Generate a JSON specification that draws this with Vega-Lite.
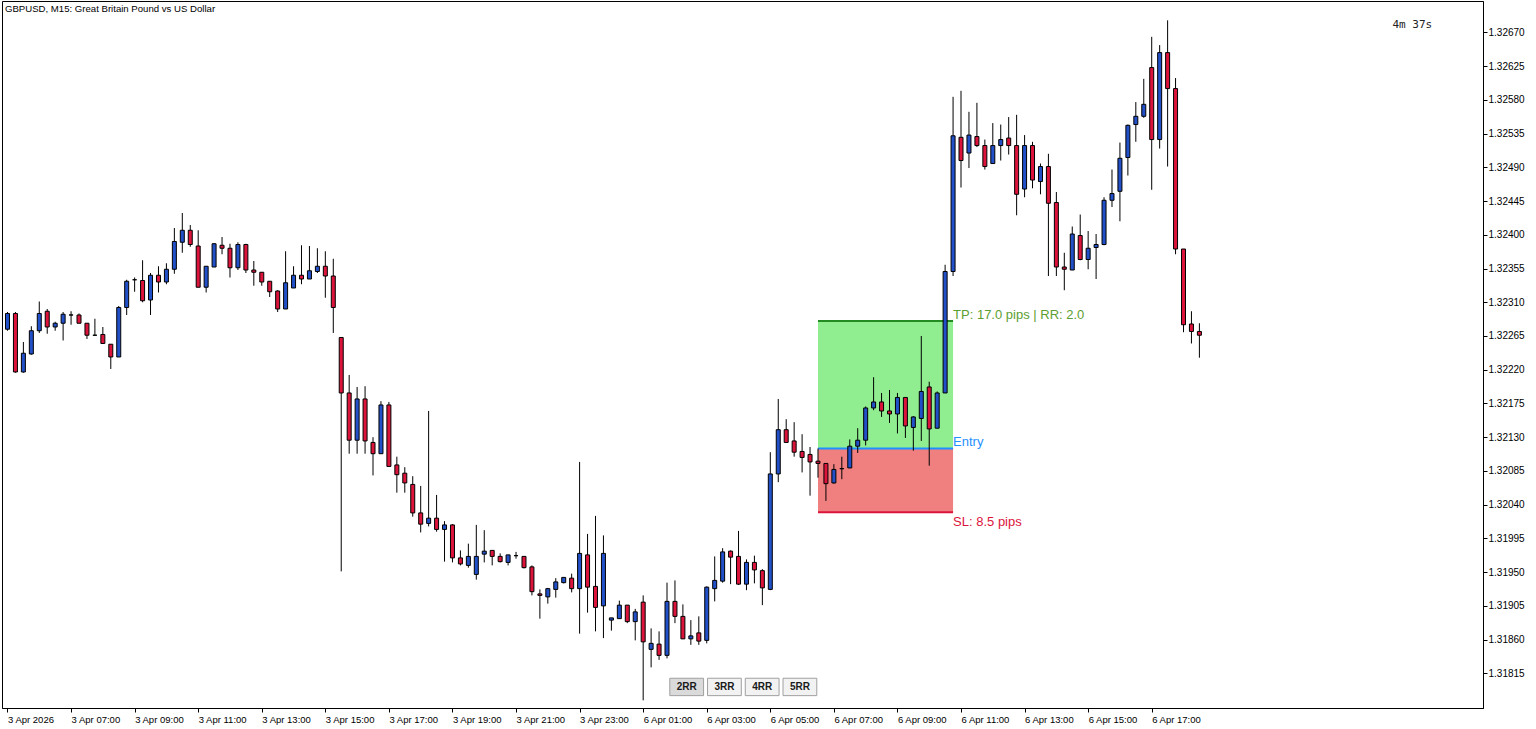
{
  "$schema": "https://vega.github.io/schema/vega-lite/v6.json",
  "width": 1481,
  "height": 707,
  "autosize": {"type": "none"},
  "padding": {"left": 2, "top": 1, "right": 53, "bottom": 21},
  "background": "#ffffff",
  "title": {"text": "GBPUSD, M15:  Great Britain Pound vs US Dollar", "anchor": "start", "frame": "group", "orient": "top", "offset": -18, "dx": 3, "baseline": "middle", "font": "Liberation Sans", "fontSize": 9.6, "fontWeight": "normal", "color": "#000000"},
  "config": {
    "view": {"stroke": "#000000", "strokeWidth": 1},
    "axis": {"grid": false, "title": null, "domainColor": "#000000", "tickColor": "#000000", "labelColor": "#000000", "labelFont": "Liberation Sans", "labelFontSize": 9.5, "labelOverlap": false, "labelBound": false, "labelFlush": false},
    "axisY": {"labelOverlap": false, "labelFontSize": 10, "tickCount": 40},
    "axisX": {"tickCount": 40}
  },
  "datasets": {
    "candles": [
      {"i":0,"o":1.32274,"h":1.32297,"l":1.32272,"c":1.32295},
      {"i":1,"o":1.32295,"h":1.32297,"l":1.32216,"c":1.32217},
      {"i":2,"o":1.32217,"h":1.32257,"l":1.32216,"c":1.32242},
      {"i":3,"o":1.32241,"h":1.32278,"l":1.32240,"c":1.32272},
      {"i":4,"o":1.32272,"h":1.32311,"l":1.32269,"c":1.32295},
      {"i":5,"o":1.32298,"h":1.32301,"l":1.32268,"c":1.32277},
      {"i":6,"o":1.32277,"h":1.32284,"l":1.32272,"c":1.32282},
      {"i":7,"o":1.32282,"h":1.32297,"l":1.32259,"c":1.32294},
      {"i":8,"o":1.32293,"h":1.32298,"l":1.32280,"c":1.32293},
      {"i":9,"o":1.32293,"h":1.32295,"l":1.32282,"c":1.32282},
      {"i":10,"o":1.32282,"h":1.32282,"l":1.32261,"c":1.32266},
      {"i":11,"o":1.32266,"h":1.32288,"l":1.32265,"c":1.32266},
      {"i":12,"o":1.32267,"h":1.32277,"l":1.32255,"c":1.32255},
      {"i":13,"o":1.32254,"h":1.32254,"l":1.32221,"c":1.32237},
      {"i":14,"o":1.32237,"h":1.32305,"l":1.32237,"c":1.32303},
      {"i":15,"o":1.32303,"h":1.32340,"l":1.32293,"c":1.32338},
      {"i":16,"o":1.32340,"h":1.32343,"l":1.32324,"c":1.32340},
      {"i":17,"o":1.32339,"h":1.32366,"l":1.32310,"c":1.32312},
      {"i":18,"o":1.32313,"h":1.32349,"l":1.32293,"c":1.32346},
      {"i":19,"o":1.32346,"h":1.32358,"l":1.32323,"c":1.32337},
      {"i":20,"o":1.32337,"h":1.32362,"l":1.32334,"c":1.32354},
      {"i":21,"o":1.32354,"h":1.32409,"l":1.32348,"c":1.32391},
      {"i":22,"o":1.32390,"h":1.32429,"l":1.32376,"c":1.32406},
      {"i":23,"o":1.32406,"h":1.32413,"l":1.32384,"c":1.32387},
      {"i":24,"o":1.32385,"h":1.32406,"l":1.32330,"c":1.32330},
      {"i":25,"o":1.32330,"h":1.32358,"l":1.32323,"c":1.32358},
      {"i":26,"o":1.32357,"h":1.32389,"l":1.32357,"c":1.32388},
      {"i":27,"o":1.32386,"h":1.32397,"l":1.32374,"c":1.32382},
      {"i":28,"o":1.32382,"h":1.32388,"l":1.32343,"c":1.32356},
      {"i":29,"o":1.32356,"h":1.32390,"l":1.32353,"c":1.32387},
      {"i":30,"o":1.32387,"h":1.32388,"l":1.32349,"c":1.32353},
      {"i":31,"o":1.32353,"h":1.32365,"l":1.32332,"c":1.32350},
      {"i":32,"o":1.32350,"h":1.32350,"l":1.32332,"c":1.32337},
      {"i":33,"o":1.32338,"h":1.32338,"l":1.32317,"c":1.32324},
      {"i":34,"o":1.32325,"h":1.32326,"l":1.32297,"c":1.32301},
      {"i":35,"o":1.32301,"h":1.32378,"l":1.32301,"c":1.32336},
      {"i":36,"o":1.32329,"h":1.32358,"l":1.32329,"c":1.32346},
      {"i":37,"o":1.32346,"h":1.32386,"l":1.32334,"c":1.32341},
      {"i":38,"o":1.32341,"h":1.32385,"l":1.32341,"c":1.32352},
      {"i":39,"o":1.32351,"h":1.32382,"l":1.32349,"c":1.32358},
      {"i":40,"o":1.32358,"h":1.32378,"l":1.32316,"c":1.32345},
      {"i":41,"o":1.32345,"h":1.32368,"l":1.32269,"c":1.32303},
      {"i":42,"o":1.32263,"h":1.32263,"l":1.31951,"c":1.32189},
      {"i":43,"o":1.32189,"h":1.32213,"l":1.32108,"c":1.32126},
      {"i":44,"o":1.32126,"h":1.32197,"l":1.32108,"c":1.32181},
      {"i":45,"o":1.32181,"h":1.32198,"l":1.32108,"c":1.32125},
      {"i":46,"o":1.32123,"h":1.32130,"l":1.32079,"c":1.32108},
      {"i":47,"o":1.32108,"h":1.32178,"l":1.32108,"c":1.32173},
      {"i":48,"o":1.32173,"h":1.32177,"l":1.32091,"c":1.32091},
      {"i":49,"o":1.32093,"h":1.32104,"l":1.32056,"c":1.32080},
      {"i":50,"o":1.32082,"h":1.32090,"l":1.32056,"c":1.32069},
      {"i":51,"o":1.32067,"h":1.32078,"l":1.32024,"c":1.32029},
      {"i":52,"o":1.32029,"h":1.32065,"l":1.32003,"c":1.32014},
      {"i":53,"o":1.32015,"h":1.32165,"l":1.32011,"c":1.32022},
      {"i":54,"o":1.32022,"h":1.32053,"l":1.32004,"c":1.32007},
      {"i":55,"o":1.32007,"h":1.32018,"l":1.31964,"c":1.32013},
      {"i":56,"o":1.32013,"h":1.32014,"l":1.31963,"c":1.31969},
      {"i":57,"o":1.31969,"h":1.31979,"l":1.31959,"c":1.31961},
      {"i":58,"o":1.31959,"h":1.31988,"l":1.31956,"c":1.31971},
      {"i":59,"o":1.31947,"h":1.32013,"l":1.31940,"c":1.31971},
      {"i":60,"o":1.31974,"h":1.32006,"l":1.31963,"c":1.31978},
      {"i":61,"o":1.31979,"h":1.31979,"l":1.31959,"c":1.31971},
      {"i":62,"o":1.31971,"h":1.31975,"l":1.31963,"c":1.31964},
      {"i":63,"o":1.31963,"h":1.31973,"l":1.31959,"c":1.31973},
      {"i":64,"o":1.31972,"h":1.31977,"l":1.31968,"c":1.31972},
      {"i":65,"o":1.31971,"h":1.31971,"l":1.31955,"c":1.31956},
      {"i":66,"o":1.31957,"h":1.31959,"l":1.31919,"c":1.31924},
      {"i":67,"o":1.31921,"h":1.31927,"l":1.31888,"c":1.31919},
      {"i":68,"o":1.31917,"h":1.31929,"l":1.31908,"c":1.31928},
      {"i":69,"o":1.31927,"h":1.31942,"l":1.31916,"c":1.31937},
      {"i":70,"o":1.31936,"h":1.31943,"l":1.31935,"c":1.31943},
      {"i":71,"o":1.31942,"h":1.31948,"l":1.31923,"c":1.31928},
      {"i":72,"o":1.31928,"h":1.32097,"l":1.31868,"c":1.31975},
      {"i":73,"o":1.31973,"h":1.32001,"l":1.31896,"c":1.31930},
      {"i":74,"o":1.31931,"h":1.32025,"l":1.31871,"c":1.31903},
      {"i":75,"o":1.31905,"h":1.31999,"l":1.31862,"c":1.31975},
      {"i":76,"o":1.31886,"h":1.31889,"l":1.31872,"c":1.31889},
      {"i":77,"o":1.31888,"h":1.31912,"l":1.31888,"c":1.31906},
      {"i":78,"o":1.31906,"h":1.31906,"l":1.31882,"c":1.31884},
      {"i":79,"o":1.31884,"h":1.31901,"l":1.31859,"c":1.31897},
      {"i":80,"o":1.31910,"h":1.31919,"l":1.31779,"c":1.31857},
      {"i":81,"o":1.31847,"h":1.31875,"l":1.31823,"c":1.31855},
      {"i":82,"o":1.31854,"h":1.31871,"l":1.31833,"c":1.31839},
      {"i":83,"o":1.31839,"h":1.31936,"l":1.31835,"c":1.31911},
      {"i":84,"o":1.31911,"h":1.31939,"l":1.31882,"c":1.31891},
      {"i":85,"o":1.31891,"h":1.31907,"l":1.31861,"c":1.31861},
      {"i":86,"o":1.31861,"h":1.31886,"l":1.31853,"c":1.31865},
      {"i":87,"o":1.31869,"h":1.31891,"l":1.31853,"c":1.31858},
      {"i":88,"o":1.31859,"h":1.31931,"l":1.31855,"c":1.31930},
      {"i":89,"o":1.31928,"h":1.31971,"l":1.31911,"c":1.31939},
      {"i":90,"o":1.31938,"h":1.31982,"l":1.31936,"c":1.31977},
      {"i":91,"o":1.31978,"h":1.31979,"l":1.31934,"c":1.31970},
      {"i":92,"o":1.31971,"h":1.32005,"l":1.31933,"c":1.31934},
      {"i":93,"o":1.31934,"h":1.31967,"l":1.31926,"c":1.31963},
      {"i":94,"o":1.31963,"h":1.31972,"l":1.31935,"c":1.31953},
      {"i":95,"o":1.31952,"h":1.31954,"l":1.31906,"c":1.31929},
      {"i":96,"o":1.31927,"h":1.32110,"l":1.31926,"c":1.32081},
      {"i":97,"o":1.32081,"h":1.32181,"l":1.32070,"c":1.32140},
      {"i":98,"o":1.32140,"h":1.32154,"l":1.32123,"c":1.32123},
      {"i":99,"o":1.32125,"h":1.32150,"l":1.32104,"c":1.32110},
      {"i":100,"o":1.32111,"h":1.32134,"l":1.32083,"c":1.32103},
      {"i":101,"o":1.32107,"h":1.32117,"l":1.32052,"c":1.32097},
      {"i":102,"o":1.32098,"h":1.32115,"l":1.32076,"c":1.32095},
      {"i":103,"o":1.32095,"h":1.32095,"l":1.32045,"c":1.32068},
      {"i":104,"o":1.32069,"h":1.32094,"l":1.32068,"c":1.32087},
      {"i":105,"o":1.32088,"h":1.32104,"l":1.32074,"c":1.32088},
      {"i":106,"o":1.32089,"h":1.32127,"l":1.32089,"c":1.32118},
      {"i":107,"o":1.32118,"h":1.32142,"l":1.32109,"c":1.32126},
      {"i":108,"o":1.32126,"h":1.32171,"l":1.32119,"c":1.32169},
      {"i":109,"o":1.32169,"h":1.32210,"l":1.32166,"c":1.32177},
      {"i":110,"o":1.32177,"h":1.32189,"l":1.32157,"c":1.32165},
      {"i":111,"o":1.32165,"h":1.32193,"l":1.32149,"c":1.32161},
      {"i":112,"o":1.32161,"h":1.32189,"l":1.32135,"c":1.32183},
      {"i":113,"o":1.32183,"h":1.32183,"l":1.32129,"c":1.32145},
      {"i":114,"o":1.32143,"h":1.32158,"l":1.32112,"c":1.32157},
      {"i":115,"o":1.32155,"h":1.32265,"l":1.32125,"c":1.32191},
      {"i":116,"o":1.32197,"h":1.32204,"l":1.32092,"c":1.32141},
      {"i":117,"o":1.32142,"h":1.32191,"l":1.32142,"c":1.32189},
      {"i":118,"o":1.32189,"h":1.32360,"l":1.32189,"c":1.32351},
      {"i":119,"o":1.32351,"h":1.32584,"l":1.32345,"c":1.32532},
      {"i":120,"o":1.32530,"h":1.32592,"l":1.32463,"c":1.32499},
      {"i":121,"o":1.32509,"h":1.32564,"l":1.32489,"c":1.32533},
      {"i":122,"o":1.32531,"h":1.32576,"l":1.32517,"c":1.32519},
      {"i":123,"o":1.32519,"h":1.32527,"l":1.32487,"c":1.32491},
      {"i":124,"o":1.32495,"h":1.32549,"l":1.32495,"c":1.32519},
      {"i":125,"o":1.32519,"h":1.32547,"l":1.32499,"c":1.32527},
      {"i":126,"o":1.32529,"h":1.32557,"l":1.32507,"c":1.32519},
      {"i":127,"o":1.32519,"h":1.32560,"l":1.32426,"c":1.32454},
      {"i":128,"o":1.32461,"h":1.32533,"l":1.32450,"c":1.32519},
      {"i":129,"o":1.32519,"h":1.32524,"l":1.32462,"c":1.32473},
      {"i":130,"o":1.32471,"h":1.32495,"l":1.32454,"c":1.32491},
      {"i":131,"o":1.32491,"h":1.32508,"l":1.32345,"c":1.32442},
      {"i":132,"o":1.32443,"h":1.32457,"l":1.32345,"c":1.32357},
      {"i":133,"o":1.32357,"h":1.32376,"l":1.32326,"c":1.32354},
      {"i":134,"o":1.32353,"h":1.32411,"l":1.32353,"c":1.32401},
      {"i":135,"o":1.32399,"h":1.32427,"l":1.32366,"c":1.32367},
      {"i":136,"o":1.32367,"h":1.32405,"l":1.32354,"c":1.32382},
      {"i":137,"o":1.32383,"h":1.32401,"l":1.32341,"c":1.32387},
      {"i":138,"o":1.32387,"h":1.32450,"l":1.32386,"c":1.32446},
      {"i":139,"o":1.32446,"h":1.32487,"l":1.32437,"c":1.32455},
      {"i":140,"o":1.32458,"h":1.32523,"l":1.32418,"c":1.32502},
      {"i":141,"o":1.32503,"h":1.32547,"l":1.32479,"c":1.32546},
      {"i":142,"o":1.32547,"h":1.32577,"l":1.32524,"c":1.32558},
      {"i":143,"o":1.32558,"h":1.32608,"l":1.32556,"c":1.32574},
      {"i":144,"o":1.32623,"h":1.32664,"l":1.32460,"c":1.32527},
      {"i":145,"o":1.32527,"h":1.32653,"l":1.32515,"c":1.32643},
      {"i":146,"o":1.32643,"h":1.32686,"l":1.32491,"c":1.32595},
      {"i":147,"o":1.32595,"h":1.32609,"l":1.32374,"c":1.32381},
      {"i":148,"o":1.32381,"h":1.32381,"l":1.32270,"c":1.32280},
      {"i":149,"o":1.32281,"h":1.32298,"l":1.32255,"c":1.32271},
      {"i":150,"o":1.32271,"h":1.32282,"l":1.32236,"c":1.32266}
    ],
    "zones": [
      {"zone": "reward", "lo": 1.32115, "hi": 1.32285, "t0": 102, "t1": 119},
      {"zone": "risk", "lo": 1.3203, "hi": 1.32115, "t0": 102, "t1": 119}
    ],
    "levels": [
      {"name": "TP", "p": 1.32285, "t0": 102, "t1": 119, "label": "TP: 17.0 pips | RR: 2.0"},
      {"name": "Entry", "p": 1.32115, "t0": 102, "t1": 119, "label": "Entry"},
      {"name": "SL", "p": 1.3203, "t0": 102, "t1": 119, "label": "SL: 8.5 pips"}
    ],
    "buttons": [
      {"b": "2RR", "t0": 83.35, "t1": 87.6, "mid": 85.48, "lo": 1.317853, "hi": 1.318085, "pm": 1.31797},
      {"b": "3RR", "t0": 88.1, "t1": 92.35, "mid": 90.23, "lo": 1.317853, "hi": 1.318085, "pm": 1.31797},
      {"b": "4RR", "t0": 92.85, "t1": 97.1, "mid": 94.98, "lo": 1.317853, "hi": 1.318085, "pm": 1.31797},
      {"b": "5RR", "t0": 97.6, "t1": 101.85, "mid": 99.73, "lo": 1.317853, "hi": 1.318085, "pm": 1.31797}
    ],
    "timer": [
      {"t": 174.3, "p": 1.3268, "label": "4m 37s"}
    ]
  },
  "layer": [
    {
      "data": {"name": "zones"},
      "mark": {"type": "rect", "clip": true},
      "encoding": {
        "x": {"field": "t0", "type": "quantitative", "scale": {"domain": [-0.0625, 185.0625], "nice": false, "zero": false}, "title": null},
        "x2": {"field": "t1"},
        "y": {"field": "lo", "type": "quantitative", "scale": {"domain": [1.317688, 1.327118], "nice": false, "zero": false}, "title": null},
        "y2": {"field": "hi"},
        "fill": {"field": "zone", "type": "nominal", "scale": {"domain": ["reward", "risk"], "range": ["#90EE90", "#F08080"]}, "legend": null}
      }
    },
    {
      "data": {"name": "levels"},
      "mark": {"type": "rule", "strokeWidth": 2, "clip": true},
      "encoding": {
        "x": {"field": "t0", "type": "quantitative", "scale": {"domain": [-0.0625, 185.0625], "nice": false, "zero": false}, "title": null},
        "x2": {"field": "t1"},
        "y": {"field": "p", "type": "quantitative", "scale": {"domain": [1.317688, 1.327118], "nice": false, "zero": false}, "title": null},
        "stroke": {"field": "name", "type": "nominal", "scale": {"domain": ["TP", "Entry", "SL"], "range": ["#228B22", "#1E90FF", "#DC143C"]}, "legend": null}
      }
    },
    {
      "data": {"name": "candles"},
      "mark": {"type": "rule", "color": "#000000", "strokeWidth": 1, "clip": true},
      "encoding": {
        "x": {"field": "i", "type": "quantitative", "scale": {"domain": [-0.0625, 185.0625], "nice": false, "zero": false}, "title": null},
        "y": {"field": "l", "type": "quantitative", "scale": {"domain": [1.317688, 1.327118], "nice": false, "zero": false}, "title": null},
        "y2": {"field": "h"}
      }
    },
    {
      "data": {"name": "candles"},
      "mark": {"type": "bar", "width": 4, "stroke": "#000000", "strokeWidth": 1, "clip": true},
      "encoding": {
        "x": {"field": "i", "type": "quantitative", "scale": {"domain": [-0.0625, 185.0625], "nice": false, "zero": false}, "title": null,
          "axis": {"orient": "bottom", "values": [0, 8, 16, 24, 32, 40, 48, 56, 64, 72, 80, 88, 96, 104, 112, 120, 128, 136, 144], "tickCount": 40, "labelExpr": "['3 Apr 2026','3 Apr 07:00','3 Apr 09:00','3 Apr 11:00','3 Apr 13:00','3 Apr 15:00','3 Apr 17:00','3 Apr 19:00','3 Apr 21:00','3 Apr 23:00','6 Apr 01:00','6 Apr 03:00','6 Apr 05:00','6 Apr 07:00','6 Apr 09:00','6 Apr 11:00','6 Apr 13:00','6 Apr 15:00','6 Apr 17:00'][round(datum.value/8)]", "labelAlign": "left", "labelBaseline": "top", "tickSize": 4, "labelPadding": 2, "labelOverlap": false, "labelBound": false, "labelFlush": false, "domain": true, "grid": false}},
        "y": {"field": "o", "type": "quantitative", "scale": {"domain": [1.317688, 1.327118], "nice": false, "zero": false}, "title": null,
          "axis": {"orient": "right", "values": [1.31815, 1.31860, 1.31905, 1.31950, 1.31995, 1.32040, 1.32085, 1.32130, 1.32175, 1.32220, 1.32265, 1.32310, 1.32355, 1.32400, 1.32445, 1.32490, 1.32535, 1.32580, 1.32625, 1.32670], "tickCount": 40, "format": ".5f", "tickSize": 4, "labelPadding": 1, "labelAlign": "left", "labelBaseline": "middle", "labelOverlap": false, "labelBound": false, "labelFlush": false, "domain": true, "grid": false}},
        "y2": {"field": "c"},
        "fill": {"condition": {"test": "datum.c >= datum.o", "value": "#2150C8"}, "value": "#DC143C"}
      }
    },
    {
      "data": {"name": "levels"},
      "transform": [{"filter": "datum.name != 'SL'"}],
      "mark": {"type": "text", "align": "left", "baseline": "alphabetic", "dy": -2, "dx": 0, "font": "Liberation Sans", "fontSize": 13},
      "encoding": {
        "x": {"field": "t1", "type": "quantitative", "scale": {"domain": [-0.0625, 185.0625], "nice": false, "zero": false}, "title": null},
        "y": {"field": "p", "type": "quantitative", "scale": {"domain": [1.317688, 1.327118], "nice": false, "zero": false}, "title": null},
        "text": {"field": "label"},
        "color": {"field": "name", "type": "nominal", "scale": {"domain": ["TP", "Entry", "SL"], "range": ["#5C9E31", "#1E90FF", "#DC143C"]}, "legend": null}
      }
    },
    {
      "data": {"name": "levels"},
      "transform": [{"filter": "datum.name == 'SL'"}],
      "mark": {"type": "text", "align": "left", "baseline": "alphabetic", "dy": 14, "dx": 0, "font": "Liberation Sans", "fontSize": 13},
      "encoding": {
        "x": {"field": "t1", "type": "quantitative", "scale": {"domain": [-0.0625, 185.0625], "nice": false, "zero": false}, "title": null},
        "y": {"field": "p", "type": "quantitative", "scale": {"domain": [1.317688, 1.327118], "nice": false, "zero": false}, "title": null},
        "text": {"field": "label"},
        "color": {"field": "name", "type": "nominal", "scale": {"domain": ["TP", "Entry", "SL"], "range": ["#5C9E31", "#1E90FF", "#DC143C"]}, "legend": null}
      }
    },
    {
      "data": {"name": "buttons"},
      "mark": {"type": "rect", "stroke": "#A0A0A0", "strokeWidth": 1},
      "encoding": {
        "x": {"field": "t0", "type": "quantitative", "scale": {"domain": [-0.0625, 185.0625], "nice": false, "zero": false}, "title": null},
        "x2": {"field": "t1"},
        "y": {"field": "lo", "type": "quantitative", "scale": {"domain": [1.317688, 1.327118], "nice": false, "zero": false}, "title": null},
        "y2": {"field": "hi"},
        "fill": {"condition": {"test": "datum.b == '2RR'", "value": "#DADADA"}, "value": "#F2F2F2"}
      }
    },
    {
      "data": {"name": "buttons"},
      "mark": {"type": "text", "align": "center", "baseline": "middle", "font": "Liberation Sans", "fontSize": 10, "fontWeight": "bold", "color": "#1A1A1A"},
      "encoding": {
        "x": {"field": "mid", "type": "quantitative", "scale": {"domain": [-0.0625, 185.0625], "nice": false, "zero": false}, "title": null},
        "y": {"field": "pm", "type": "quantitative", "scale": {"domain": [1.317688, 1.327118], "nice": false, "zero": false}, "title": null},
        "text": {"field": "b"}
      }
    },
    {
      "data": {"name": "timer"},
      "mark": {"type": "text", "align": "left", "baseline": "middle", "font": "DejaVu Sans Mono", "fontSize": 11, "color": "#222222"},
      "encoding": {
        "x": {"field": "t", "type": "quantitative", "scale": {"domain": [-0.0625, 185.0625], "nice": false, "zero": false}, "title": null},
        "y": {"field": "p", "type": "quantitative", "scale": {"domain": [1.317688, 1.327118], "nice": false, "zero": false}, "title": null},
        "text": {"field": "label"}
      }
    }
  ]
}
